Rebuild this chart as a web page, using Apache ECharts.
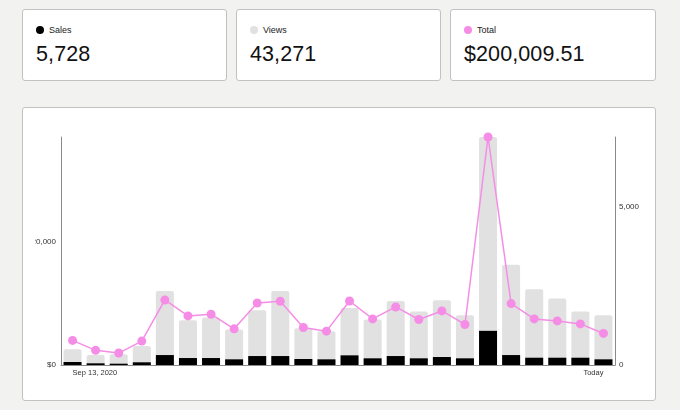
<!DOCTYPE html>
<html>
<head>
<meta charset="utf-8">
<script src="https://cdn.jsdelivr.net/npm/echarts@6/dist/echarts.min.js"></script>
<style>
  html, body { margin:0; padding:0; background:#f2f2f1; width:680px; height:410px; overflow:hidden;
    font-family: "Liberation Sans", Arial, sans-serif; }
  .card { position:absolute; background:#fff; border:1px solid #c2c2c2; border-radius:3px; box-sizing:border-box; }
  .stat { top:9px; height:72px; }
  .dot { position:absolute; left:13px; top:16px; width:8px; height:8px; border-radius:50%; }
  .lbl { position:absolute; left:26px; top:14px; font-size:9px; color:#222; line-height:12px; }
  .num { position:absolute; left:13px; top:31px; font-size:21.5px; color:#111; line-height:26px; letter-spacing:0.1px; }
  #chart { position:absolute; left:35px; top:108px; width:620px; height:291px; }
</style>
</head>
<body>
<div class="card stat" style="left:22px;width:205px;">
  <div class="dot" style="background:#000;"></div><div class="lbl">Sales</div><div class="num">5,728</div>
</div>
<div class="card stat" style="left:236px;width:205px;">
  <div class="dot" style="background:#e2e1e1;"></div><div class="lbl">Views</div><div class="num">43,271</div>
</div>
<div class="card stat" style="left:450px;width:206px;">
  <div class="dot" style="background:#f58de6;"></div><div class="lbl">Total</div><div class="num">$200,009.51</div>
</div>
<div class="card" style="left:22px;top:107px;width:634px;height:294px;"></div>
<div id="chart"></div>
<script>
const categories = ['Sep 13, 2020','Sep 20','Sep 27','Oct 4','Oct 11','Oct 18','Oct 25','Nov 1','Nov 8','Nov 15','Nov 22','Nov 29',
  'Dec 6','Dec 13','Dec 20','Dec 27','Jan 3','Jan 10','Jan 17','Jan 24','Jan 31','Feb 7','Feb 14','Today'];
const tickLabels = { 0: 'Sep 13, 2020', 23: 'Today' };
const views = [494, 314, 336, 597, 2336, 1415, 1500, 1123, 1730, 2336, 1164, 1069,
  1802, 1437, 2022, 1689, 2044, 1572, 7201, 3167, 2390, 2097, 1689, 1572];
const sales = [94, 53, 41, 85, 314, 220, 220, 179, 283, 283, 189, 179,
  305, 211, 283, 211, 252, 211, 1079, 314, 230, 230, 230, 179];
const totals = [3984, 2371, 1935, 3871, 10532, 7952, 8226, 5855, 10048, 10323, 6081, 5484,
  10371, 7468, 9403, 7371, 8758, 6565, 36935, 9952, 7468, 7145, 6661, 5113];

const axisColor = '#8a8a8a';
const chart = echarts.init(document.getElementById('chart'), null, { renderer: 'canvas' });
chart.setOption({
  animation: false,
  grid: { left: 26, right: 40, top: 29, bottom: 34, containLabel: false, outerBoundsMode: 'none' },
  xAxis: {
    type: 'category', data: categories, boundaryGap: true,
    axisLine: { lineStyle: { color: axisColor, width: 1 } },
    axisTick: { show: false },
    axisLabel: {
      interval: 0, margin: 4, fontSize: 7.5, color: '#333', fontFamily: 'Liberation Sans',
      alignMinLabel: 'left', alignMaxLabel: 'right', hideOverlap: false,
      formatter: (v, i) => tickLabels[i] || ''
    },
    splitLine: { show: false }
  },
  yAxis: [
    {
      type: 'value', min: 0, max: 'dataMax', interval: 20000, position: 'left',
      axisLine: { show: true, lineStyle: { color: axisColor, width: 1 } },
      axisTick: { show: false }, splitLine: { show: false },
      axisLabel: { margin: 5, fontSize: 8, color: '#333', fontFamily: 'Liberation Sans', showMaxLabel: false,
        formatter: v => '$' + v.toLocaleString('en-US') }
    },
    {
      type: 'value', min: 0, max: 'dataMax', interval: 5000, position: 'right',
      axisLine: { show: true, lineStyle: { color: axisColor, width: 1 } },
      axisTick: { show: false }, splitLine: { show: false },
      axisLabel: { margin: 4, fontSize: 8, color: '#333', fontFamily: 'Liberation Sans', showMaxLabel: false,
        formatter: v => v.toLocaleString('en-US') }
    }
  ],
  series: [
    { name: 'Views', type: 'bar', yAxisIndex: 1, data: views, barWidth: '78%', barGap: '-100%',
      itemStyle: { color: '#e2e1e1', borderRadius: [2, 2, 0, 0] }, z: 1 },
    { name: 'Sales', type: 'bar', yAxisIndex: 1, data: sales, barWidth: '78%', barGap: '-100%',
      itemStyle: { color: '#000' }, z: 2 },
    { name: 'Total', type: 'line', yAxisIndex: 0, data: totals, symbol: 'circle', symbolSize: 9,
      showAllSymbol: true, lineStyle: { color: '#f58de6', width: 1.5 }, itemStyle: { color: '#f58de6' }, z: 3 }
  ]
});
</script>
</body>
</html>
